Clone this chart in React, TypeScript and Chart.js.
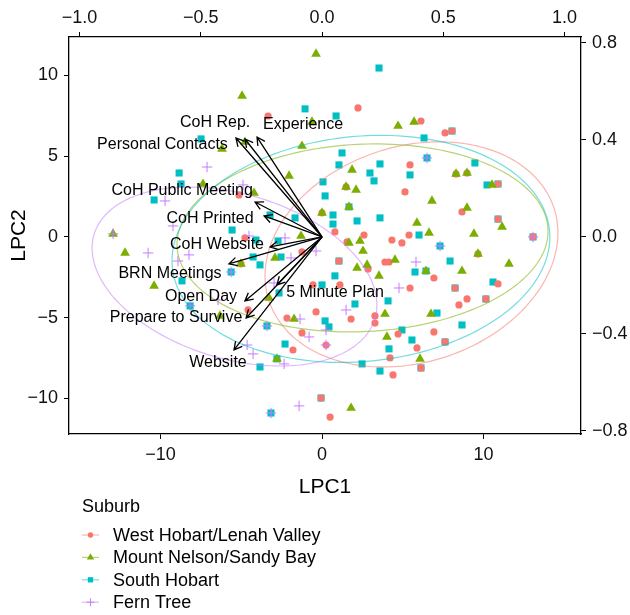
import React, { useEffect, useRef } from "react";
import { Chart, registerables } from "chart.js";

Chart.register(...registerables);

const FONT = '"Liberation Sans", Arial, Helvetica, sans-serif';

// ---------------- data ----------------
const SUBURBS = ["West Hobart/Lenah Valley", "Mount Nelson/Sandy Bay", "South Hobart", "Fern Tree"];
const COLORS = ["#F8766D", "#7CAE00", "#00BFC4", "#C77CFF"];
const ELLIPSE_COLORS = ["rgba(248,118,109,0.55)", "rgba(124,174,0,0.55)", "rgba(0,191,196,0.55)", "rgba(199,124,255,0.55)"];

const westHobart: number[][] = [
  [-3.34, 7.49], [2.23, 7.99], [6.13, 7.18], [7.62, 6.44], [8.05, 6.56], [5.45, 4.46], [8.3, 3.9],
  [8.98, 3.96], [10.9, 3.28], [5.14, 2.79], [8.67, 1.55], [10.9, 1.11], [1.49, 3.1], [0, 1.49],
  [0.8, 0.31], [2.6, 0.12], [5.39, 0.12], [13.07, 0], [-5.14, 2.6], [-4.77, -0.06], [-5.02, -1.67],
  [-4.58, -4.52], [-2.17, -5.02], [-1.24, -5.94], [-1.8, -7.0], [-0.37, -4.64], [-0.56, -2.97],
  [-1.24, -0.93], [1.55, -0.31], [4.33, -0.19], [4.95, -0.37], [1.05, -1.49], [2.85, -1.98],
  [3.9, -1.55], [4.15, -1.55], [6.93, -2.54], [9.66, -1.05], [10.9, -2.91], [1.11, -2.97],
  [5.45, -3.16], [8.24, -3.16], [8.98, -3.84], [8.48, -4.21], [10.15, -3.84], [3.28, -4.89],
  [3.28, -5.33], [1.8, -5.08], [4.71, -6.01], [6.93, -5.88], [5.88, -6.87], [7.62, -6.5],
  [4.21, -7.49], [6.13, -8.11], [4.4, -8.54], [-0.06, -9.97], [0.5, -11.15], [0.25, -6.69],
];

const mountNelson: number[][] = [
  [-0.37, 11.33], [-4.95, 8.73], [-0.62, 7.12], [5.7, 7.12], [4.71, 6.87], [-4.77, 5.88], [-6.19, 5.45],
  [-1.24, 5.63], [1.86, 4.15], [-2.04, 3.78], [8.3, 3.9], [8.98, 3.96], [10.53, 3.22], [1.49, 3.1],
  [2.11, 2.91], [6.81, 2.23], [8.98, 1.8], [11.15, 0.62], [1.67, 1.86], [0, 1.49], [5.88, 0.87],
  [6.63, 0.25], [9.41, 0.19], [-7.37, 3.28], [-4.21, 2.72], [-12.94, 0.19], [-1.3, 0.06],
  [-12.2, -0.99], [-10.4, -3.03], [-5.02, -1.67], [-2.91, -1.3], [-6.32, -4.89], [-3.28, -3.78],
  [-1.73, -5.08], [-2.79, -7.55], [1.67, -0.37], [2.35, -0.25], [2.54, -0.87], [2.17, -1.92],
  [2.79, -1.73], [3.53, -2.41], [4.52, -1.42], [9.66, -1.05], [8.67, -2.11], [11.58, -1.67],
  [3.9, -4.77], [6.75, -4.77], [4.02, -6.19], [6.07, -7.55], [1.8, -10.59], [6.44, -2.11],
];

const southHobart: number[][] = [
  [3.53, 10.46], [-1.05, 7.93], [0.87, 7.49], [6.32, 6.13], [8.05, 6.56], [6.5, 4.89], [1.24, 5.2],
  [1.05, 4.46], [3.59, 4.52], [5.45, 3.84], [2.97, 3.96], [3.22, 3.47], [9.47, 4.58], [10.22, 3.22],
  [0.06, 3.41], [0.19, 2.54], [0.68, 1.36], [0.68, 0.8], [2.17, 0.99], [3.59, 1.18], [1.67, 1.86],
  [6.01, 0.12], [13.07, 0], [-7.49, 6.07], [-8.85, 3.96], [-8.73, 3.28], [-10.4, 2.29], [-3.22, 1.36],
  [-1.67, 1.18], [-5.57, 0.43], [-4.09, -0.19], [-2.72, -0.25], [-5.63, -2.17], [-4.27, -1.24],
  [-3.84, -1.73], [-2.54, -1.24], [-8.67, -2.72], [-8.17, -4.27], [-2.66, -3.47], [-3.41, -5.51],
  [-2.29, -6.63], [-2.79, -7.55], [-3.84, -8.05], [-3.16, -10.9], [0.8, -2.41], [0, -2.97],
  [1.05, -1.49], [2.04, -4.15], [4.09, -3.96], [0.19, -5.2], [0.43, -5.57], [2.48, -7.86],
  [4.95, -5.76], [4.15, -6.93], [3.59, -8.3], [5.57, -6.38], [7.31, -0.56], [5.76, -2.17],
  [6.44, -2.11], [7.93, -1.49], [8.24, -3.16], [10.15, -3.84], [10.59, -2.79], [7.12, -4.71],
  [8.67, -5.45], [7.62, -6.5], [6.13, -8.11], [-0.06, -9.97], [10.9, 1.11], [10.9, 3.28],
];

const fernTree: number[][] = [
  [-7.12, 4.33], [-4.89, 3.22], [-9.72, 2.23], [-9.23, 0.68], [-12.94, 0.19], [-10.77, -0.99],
  [-8.24, -1.11], [-8.92, -1.49], [-5.63, -2.17], [-4.52, 0.06], [-2.29, -0.06], [-1.92, -1.3],
  [-0.37, -0.87], [-2.97, -2.85], [-8.17, -4.27], [-6.44, -3.9], [-1.36, -5.08], [-3.41, -5.51],
  [-4.64, -6.69], [-4.27, -7.24], [-2.35, -7.86], [-0.8, -6.19], [0.25, -5.76], [0.25, -6.69],
  [1.49, -4.52], [-3.16, -10.9], [-1.42, -10.46], [4.77, -3.16], [5.82, -1.55], [7.31, -0.56],
  [6.5, 4.89], [13.07, 0],
];

const SERIES = [westHobart, mountNelson, southHobart, fernTree];

// axis ranges and ticks
const X_MIN = -15.67, X_MAX = 16.04, Y_MIN = -12.2, Y_MAX = 12.38;
const LOADING_SCALE = 15.015; // ratio of score axes to loading axes
const X_TICKS = [-10, 0, 10];
const Y_TICKS = [-10, -5, 0, 5, 10];
const X2_TICKS = [-1, -0.5, 0, 0.5, 1];
const Y2_TICKS = [-0.8, -0.4, 0, 0.4, 0.8];

// loadings (arrows) in loading-axis units
const LOADING_NAMES = ["Personal Contacts", "CoH Rep.", "Experience", "CoH Public Meeting", "CoH Printed",
  "CoH Website", "BRN Meetings", "Open Day", "Prepare to Survive", "Website", "5 Minute Plan"];
const LOADING_X = [-0.355, -0.318, -0.268, -0.276, -0.239, -0.214, -0.384, -0.318, -0.313, -0.363, -0.186];
const LOADING_Y = [0.408, 0.404, 0.412, 0.144, 0.087, -0.041, -0.111, -0.264, -0.334, -0.466, -0.198];
const LABEL_X = [-0.658, -0.441, -0.078, -0.577, -0.462, -0.433, -0.627, -0.499, -0.602, -0.429, 0.054];
const LABEL_Y = [0.379, 0.47, 0.462, 0.19, 0.074, -0.033, -0.153, -0.247, -0.334, -0.52, -0.231];

// confidence ellipses: x = cx + ax*cos(t), y = cy + ay*cos(t - phase)
const ELLIPSE_CX = [5.54, 2.51, 2.41, -5.42];
const ELLIPSE_CY = [-1.08, -0.06, -0.74, -2.45];
const ELLIPSE_AX = [9.07, 11.49, 11.7, 8.82];
const ELLIPSE_AY = [6.97, 5.82, 7.03, 5.54];
const ELLIPSE_PHASE = [79, 86, 84, 108.5];

// ---------------- helpers ----------------
const MINUS = "\u2212";
const fmtInt = (v: number) => (v < 0 ? MINUS : "") + Math.abs(v).toString();
const fmt1 = (v: number) => (v < 0 ? MINUS : "") + Math.abs(v).toFixed(1);

function drawShape(ctx: CanvasRenderingContext2D, shape: string, x: number, y: number, r: number, color: string) {
  ctx.save();
  ctx.fillStyle = color;
  ctx.strokeStyle = color;
  ctx.beginPath();
  if (shape === "circle") {
    ctx.arc(x, y, r, 0, Math.PI * 2);
    ctx.fill();
  } else if (shape === "triangle") {
    ctx.moveTo(x, y - r);
    ctx.lineTo(x + r * 0.866, y + r * 0.5);
    ctx.lineTo(x - r * 0.866, y + r * 0.5);
    ctx.closePath();
    ctx.fill();
  } else if (shape === "rect") {
    const s = r * 0.707;
    ctx.rect(x - s, y - s, 2 * s, 2 * s);
    ctx.fill();
  } else {
    ctx.lineWidth = 1;
    ctx.moveTo(x - r, y);
    ctx.lineTo(x + r, y);
    ctx.moveTo(x, y - r);
    ctx.lineTo(x, y + r);
    ctx.stroke();
  }
  ctx.restore();
}

const SHAPES = ["circle", "triangle", "rect", "cross"];
const RADII = [3.6, 5.6, 5.0, 5.2];

const overlayPlugin = {
  id: "overlay",
  afterDatasetsDraw(chart: any) {
    const ctx: CanvasRenderingContext2D = chart.ctx;
    const xs = chart.scales.x, ys = chart.scales.y;
    const xs2 = chart.scales.x2, ys2 = chart.scales.y2;
    const area = chart.chartArea;
    ctx.save();
    ctx.beginPath();
    ctx.rect(area.left, area.top, area.right - area.left, area.bottom - area.top);
    ctx.clip();
    // ellipses
    for (let i = 0; i < 4; i++) {
      ctx.beginPath();
      const ph = (ELLIPSE_PHASE[i] * Math.PI) / 180;
      for (let k = 0; k <= 200; k++) {
        const t = (k / 200) * Math.PI * 2;
        const dx = ELLIPSE_CX[i] + ELLIPSE_AX[i] * Math.cos(t);
        const dy = ELLIPSE_CY[i] + ELLIPSE_AY[i] * Math.cos(t - ph);
        const px = xs.getPixelForValue(dx), py = ys.getPixelForValue(dy);
        if (k === 0) ctx.moveTo(px, py); else ctx.lineTo(px, py);
      }
      ctx.strokeStyle = ELLIPSE_COLORS[i];
      ctx.lineWidth = 1.2;
      ctx.stroke();
    }
    // arrows
    const ox = xs2.getPixelForValue(0), oy = ys2.getPixelForValue(0);
    ctx.strokeStyle = "#000";
    ctx.lineWidth = 1.3;
    for (let i = 0; i < LOADING_NAMES.length; i++) {
      const tx = xs2.getPixelForValue(LOADING_X[i]);
      const ty = ys2.getPixelForValue(LOADING_Y[i]);
      ctx.beginPath();
      ctx.moveTo(ox, oy);
      ctx.lineTo(tx, ty);
      const ang = Math.atan2(ty - oy, tx - ox);
      const hl = 9, ha = (28 * Math.PI) / 180;
      ctx.moveTo(tx - hl * Math.cos(ang - ha), ty - hl * Math.sin(ang - ha));
      ctx.lineTo(tx, ty);
      ctx.lineTo(tx - hl * Math.cos(ang + ha), ty - hl * Math.sin(ang + ha));
      ctx.stroke();
    }
    // labels
    ctx.fillStyle = "#000";
    ctx.font = `16px ${FONT}`;
    ctx.textAlign = "center";
    ctx.textBaseline = "middle";
    for (let i = 0; i < LOADING_NAMES.length; i++) {
      ctx.fillText(LOADING_NAMES[i], xs2.getPixelForValue(LABEL_X[i]), ys2.getPixelForValue(LABEL_Y[i]));
    }
    ctx.restore();
  },
  afterDraw(chart: any) {
    const ctx: CanvasRenderingContext2D = chart.ctx;
    ctx.save();
    ctx.fillStyle = "#000";
    ctx.font = `18px ${FONT}`;
    ctx.textAlign = "left";
    ctx.textBaseline = "middle";
    ctx.fillText("Suburb", 82, 507);
    for (let i = 0; i < SUBURBS.length; i++) {
      const y = 535 + i * 22.4;
      ctx.beginPath();
      ctx.moveTo(82, y);
      ctx.lineTo(99, y);
      ctx.strokeStyle = ELLIPSE_COLORS[i];
      ctx.lineWidth = 1.2;
      ctx.stroke();
      drawShape(ctx, SHAPES[i], 90.5, y, RADII[i] * 0.75, COLORS[i]);
      ctx.fillStyle = "#000";
      ctx.fillText(SUBURBS[i], 113, y + 1);
    }
    ctx.restore();
  },
};

function axisCommon(ticksArr: number[], fmt: (v: number) => string, padding: number) {
  return {
    type: "linear" as const,
    afterBuildTicks: (scale: any) => {
      scale.ticks = ticksArr.map((v) => ({ value: v }));
    },
    ticks: {
      callback: (v: any) => fmt(Number(v)),
      color: "#111",
      font: { family: FONT, size: 18 },
      padding,
      autoSkip: false,
      maxRotation: 0,
    },
    grid: {
      drawOnChartArea: false,
      drawTicks: true,
      tickLength: 5,
      color: "#000",
      lineWidth: 1,
    },
    border: { display: true, color: "#000", width: 1.3 },
  };
}

export default function App() {
  const ref = useRef<HTMLCanvasElement | null>(null);
  useEffect(() => {
    if (!ref.current) return;
    const order = [2, 1, 3, 0];
    const datasets = SERIES.map((s, i) => ({
      label: SUBURBS[i],
      data: s.map((p) => ({ x: p[0], y: p[1] })),
      pointStyle: SHAPES[i],
      pointRadius: RADII[i],
      backgroundColor: COLORS[i],
      borderColor: COLORS[i],
      borderWidth: i === 3 ? 1 : 0,
      order: order[i],
      xAxisID: "x",
      yAxisID: "y",
    }));
    const chart = new Chart(ref.current, {
      type: "scatter",
      data: { datasets },
      options: {
        animation: false,
        responsive: false,
        devicePixelRatio: 1,
        events: [],
        layout: { padding: 0 },
        plugins: { legend: { display: false }, tooltip: { enabled: false } },
        scales: {
          x: {
            ...axisCommon(X_TICKS, fmtInt, 5),
            position: "bottom",
            min: X_MIN,
            max: X_MAX,
            title: { display: true, text: "LPC1", color: "#000", font: { family: FONT, size: 21 }, padding: { top: 0, bottom: 115 } },
            afterFit: (s: any) => { s.height = 181; },
          },
          y: {
            ...axisCommon(Y_TICKS, fmtInt, 6),
            position: "left",
            min: Y_MIN,
            max: Y_MAX,
            title: { display: true, text: "LPC2", color: "#000", font: { family: FONT, size: 21 }, padding: { top: 7, bottom: 0 } },
            afterFit: (s: any) => { s.width = 69; },
          },
          x2: {
            ...axisCommon(X2_TICKS, fmt1, 3),
            position: "top",
            min: X_MIN / LOADING_SCALE,
            max: X_MAX / LOADING_SCALE,
            afterFit: (s: any) => { s.height = 37; },
          },
          y2: {
            ...axisCommon(Y2_TICKS, fmt1, 6),
            position: "right",
            min: Y_MIN / LOADING_SCALE,
            max: Y_MAX / LOADING_SCALE,
            afterFit: (s: any) => { s.width = 49; },
          },
        } as any,
      },
      plugins: [overlayPlugin],
    });
    return () => chart.destroy();
  }, []);
  return (
    <div style={{ position: "absolute", left: 0, top: 0, width: 630, height: 615, background: "#fff" }}>
      <canvas ref={ref} width={630} height={615} />
    </div>
  );
}
